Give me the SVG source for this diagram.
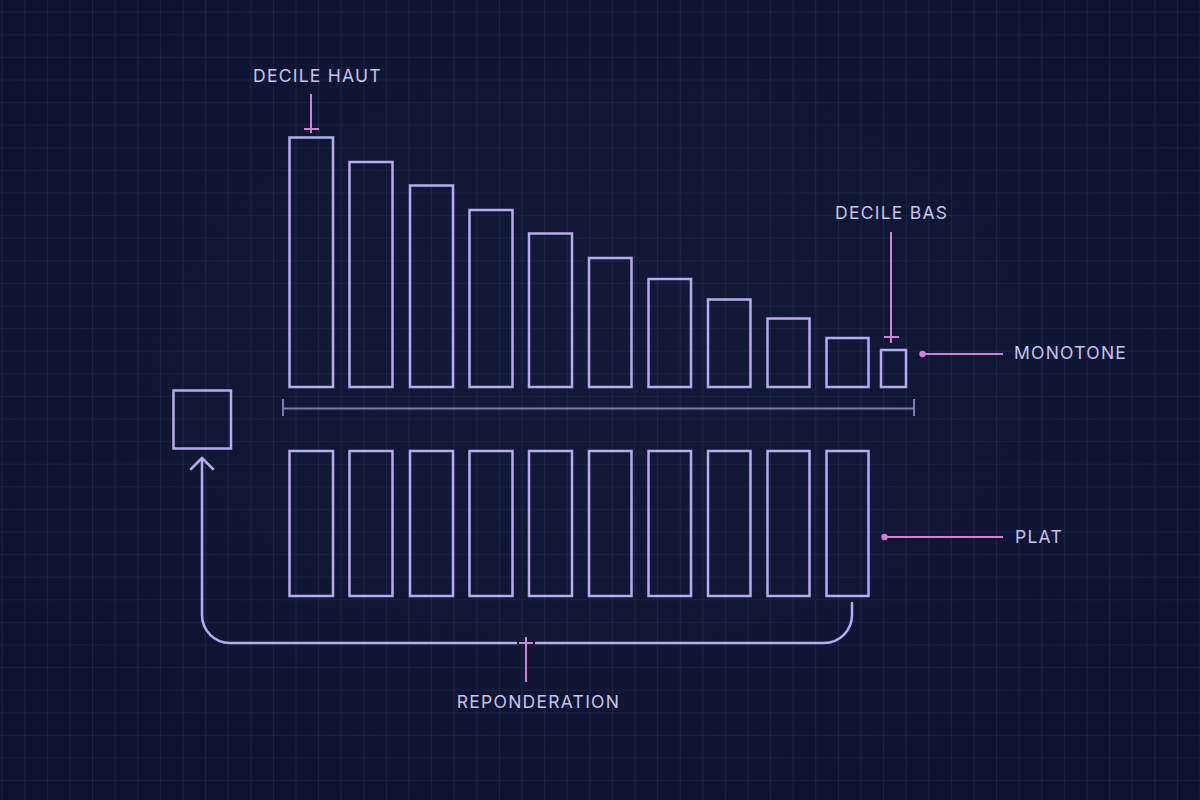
<svg xmlns="http://www.w3.org/2000/svg" width="1200" height="800" viewBox="0 0 1200 800">
  <defs>
    <pattern id="grid" x="1.7" y="11.7" width="22.6" height="22.6" patternUnits="userSpaceOnUse">
      <path d="M0 0 H22.6 M0 0 V22.6" fill="none" stroke="#232d50" stroke-width="1.2"/>
    </pattern>
    <radialGradient id="vig" cx="50%" cy="45%" r="75%">
      <stop offset="0" stop-color="#111a38"/>
      <stop offset="1" stop-color="#0c1330"/>
    </radialGradient>
  </defs>
  <style>
    .bar { fill: none; stroke: #b7abf0; stroke-width: 2.5; }
    .axis { fill: none; stroke: #7f7ca8; stroke-width: 2; }
    .pink { fill: none; stroke: #d47fdc; stroke-width: 2; }
    .conn { fill: none; stroke: #b7abf0; stroke-width: 2.5; stroke-linecap: round; stroke-linejoin: round; }
    .lbl { font-family: Inter, "Liberation Sans", sans-serif; font-size: 17.5px; letter-spacing: 1.25px; fill: #c9c3ef; }
    .dot { fill: #d47fdc; }
  </style>
  <rect width="1200" height="800" fill="url(#vig)"/>
  <rect width="1200" height="800" fill="url(#grid)"/>

  <g id="monotone-bars">
    <rect class="bar" x="289.5" y="137.5" width="43.5" height="249.5"/>
    <rect class="bar" x="349.5" y="162" width="43" height="225"/>
    <rect class="bar" x="410" y="185.5" width="43" height="201.5"/>
    <rect class="bar" x="469.5" y="210" width="43" height="177"/>
    <rect class="bar" x="529" y="233.5" width="43" height="153.5"/>
    <rect class="bar" x="589" y="258" width="42.5" height="129"/>
    <rect class="bar" x="648.5" y="279" width="42.5" height="108"/>
    <rect class="bar" x="708" y="299.5" width="42.5" height="87.5"/>
    <rect class="bar" x="767.5" y="318.5" width="42" height="68.5"/>
    <rect class="bar" x="826.5" y="338" width="42" height="49"/>
    <rect class="bar" x="881" y="350" width="25" height="37"/>
  </g>

  <g id="axis">
    <path class="axis" d="M283 408.5 H914 M283 399 V416 M914 399 V416"/>
  </g>

  <g id="flat-bars">
    <rect class="bar" x="289.5" y="451" width="43.5" height="145"/>
    <rect class="bar" x="349.5" y="451" width="43" height="145"/>
    <rect class="bar" x="410" y="451" width="43" height="145"/>
    <rect class="bar" x="469.5" y="451" width="43" height="145"/>
    <rect class="bar" x="529" y="451" width="43" height="145"/>
    <rect class="bar" x="589" y="451" width="42.5" height="145"/>
    <rect class="bar" x="648.5" y="451" width="42.5" height="145"/>
    <rect class="bar" x="708" y="451" width="42.5" height="145"/>
    <rect class="bar" x="767.5" y="451" width="42" height="145"/>
    <rect class="bar" x="826.5" y="451" width="42" height="145"/>
  </g>

  <g id="target-box">
    <rect class="bar" x="173.5" y="390.5" width="57.5" height="58"/>
  </g>

  <g id="connectors">
    <path class="conn" d="M852 603 V615 A28 28 0 0 1 824 643 H536"/>
    <path class="conn" d="M516 643 H230 A28 28 0 0 1 202 615 V458"/>
    <path class="conn" d="M191 469 L202 458 L213 469"/>
    <path class="pink" d="M311 94 V133 M304 129 H319"/>
    <path class="pink" d="M891 232 V343 M884 337 H899"/>
    <path class="pink" d="M526 637 V682 M519 643 H533"/>
    <path class="pink" d="M922 354 H1003"/>
    <circle class="dot" cx="922.5" cy="354" r="3.2"/>
    <path class="pink" d="M884 537 H1003"/>
    <circle class="dot" cx="884.5" cy="537" r="3.2"/>
  </g>

  <g id="labels">
    <text class="lbl" x="253" y="81.5">DECILE HAUT</text>
    <text class="lbl" x="835" y="218.5">DECILE BAS</text>
    <text class="lbl" x="1014" y="359">MONOTONE</text>
    <text class="lbl" x="1015" y="543">PLAT</text>
    <text class="lbl" x="538.5" y="707.5" text-anchor="middle">REPONDERATION</text>
  </g>
</svg>
